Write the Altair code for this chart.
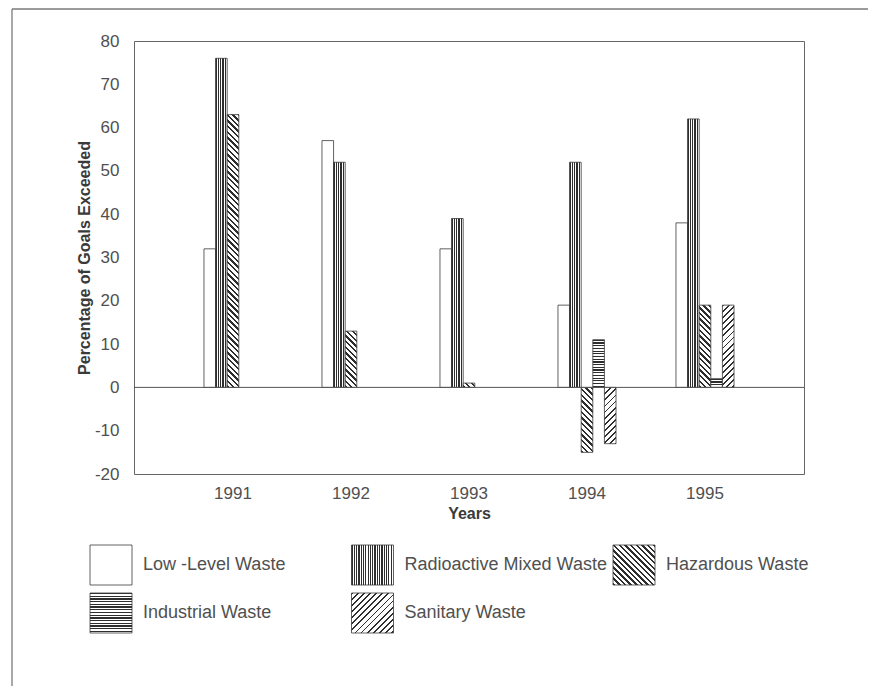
import math
import altair as alt
import pandas as pd

# ---------------- data ----------------
years = ["1991", "1992", "1993", "1994", "1995"]
series = ["Low -Level Waste", "Radioactive Mixed Waste", "Hazardous Waste",
          "Industrial Waste", "Sanitary Waste"]
low_level = [32, 57, 32, 19, 38]
radioactive_mixed = [76, 52, 39, 52, 62]
hazardous = [63, 13, 1, -15, 19]
industrial = [None, None, None, 11, 2]
sanitary = [None, None, None, -13, 19]
y_ticks = [-20, -10, 0, 10, 20, 30, 40, 50, 60, 70, 80]
# legend order (row-major, three columns)
legend_order = ["Low -Level Waste", "Radioactive Mixed Waste", "Hazardous Waste",
                "Industrial Waste", "Sanitary Waste"]

values_by_series = [low_level, radioactive_mixed, hazardous, industrial, sanitary]

rows = []
for s, vals in zip(series, values_by_series):
    for yr, v in zip(years, vals):
        if v is not None:
            rows.append({"year": yr, "series": s, "value": v})
df = pd.DataFrame(rows)

# ---------------- layout / style ----------------
FONT = "Liberation Sans"
W, H = 670, 433
PAD_IN, PAD_OUT = 0.508, 0.593
step = W / (len(years) - PAD_IN + 2 * PAD_OUT)
bar_w = step * (1 - PAD_IN) / len(series)
px_per_unit = H / 100.0
DARK = "#2e2e2e"
LIGHT = "#ffffff"
STROKE = "#3a3a3a"
TXT = "#505050"

patterns = {
    "Low -Level Waste": None,
    "Radioactive Mixed Waste": ("v", 2.3, 0.5),
    "Hazardous Waste": ("bs", 4.0, 0.42),
    "Industrial Waste": ("h", 2.7, 0.45),
    "Sanitary Waste": ("fs", 4.3, 0.3),
}


def stripe_gradient(kind, w, h, period, duty):
    if kind == "v":
        coords = dict(x1=0, y1=0, x2=1, y2=0)
        L = w
    elif kind == "h":
        coords = dict(x1=0, y1=0, x2=0, y2=1)
        L = h
    else:
        t = (w + h) / (w * w + h * h)
        if kind == "bs":
            coords = dict(x1=0, y1=1, x2=t * w, y2=1 - t * h)
        else:
            coords = dict(x1=0, y1=0, x2=t * w, y2=t * h)
        L = (w + h) / math.sqrt(2)
    n = max(L / period, 1.0)
    stops = []
    for i in range(int(math.ceil(n))):
        a = min(i / n, 1.0)
        b = min((i + duty) / n, 1.0)
        c = min((i + 1) / n, 1.0)
        stops += [(a, DARK), (b, DARK), (b, LIGHT), (c, LIGHT)]
    return alt.LinearGradient(
        gradient="linear",
        stops=[alt.GradientStop(offset=round(o, 6), color=col) for o, col in stops],
        **{k: round(v, 6) for k, v in coords.items()},
    )


x_enc = alt.X(
    "year:N",
    scale=alt.Scale(domain=years, paddingInner=PAD_IN, paddingOuter=PAD_OUT),
    axis=alt.Axis(title="Years", labelAngle=0, ticks=False, domain=False, grid=False,
                  labelPadding=11, labelFontSize=17, labelColor=TXT, labelFont=FONT,
                  titleFont=FONT, titleFontSize=16, titleFontWeight="bold",
                  titleColor="#3a3a3a", titlePadding=4),
)
xo_enc = alt.XOffset("series:N", scale=alt.Scale(domain=series, paddingInner=0, paddingOuter=0))
y_enc = alt.Y(
    "value:Q",
    scale=alt.Scale(domain=[-20, 80], nice=False),
    axis=alt.Axis(title="Percentage of Goals Exceeded", values=y_ticks, ticks=False,
                  domain=False, grid=False, labelPadding=15, labelFontSize=17,
                  labelExpr="datum.value < 0 ? '-' + abs(datum.value) : '' + datum.value",
                  labelColor=TXT, labelFont=FONT, titleFont=FONT, titleFontSize=16,
                  titleFontWeight="bold", titleColor="#3a3a3a", titlePadding=2),
)

bar_layers = []
for s, vals in zip(series, values_by_series):
    for yr, v in zip(years, vals):
        if v is None:
            continue
        pat = patterns[s]
        if pat is None:
            fill = LIGHT
        else:
            fill = stripe_gradient(pat[0], bar_w, abs(v) * px_per_unit, pat[1], pat[2])
        layer = (
            alt.Chart(df)
            .transform_filter((alt.datum.year == yr) & (alt.datum.series == s))
            .mark_bar(fill=fill, stroke=STROKE, strokeWidth=0.8)
            .encode(x=x_enc, xOffset=xo_enc, y=y_enc)
        )
        bar_layers.append(layer)

zero_rule = (
    alt.Chart(pd.DataFrame({"z": [0]}))
    .mark_rule(color="#555555", strokeWidth=1)
    .encode(y=alt.Y("z:Q", scale=alt.Scale(domain=[-20, 80], nice=False)))
)

main = alt.layer(*bar_layers, zero_rule)

# ---------------- legend (drawn through its own scales) ----------------
leg = pd.DataFrame({"label": legend_order})
leg["idx"] = range(len(legend_order))
leg["col"] = leg["idx"] % 3
leg["row"] = leg["idx"] // 3

SW_W, SW_H = 42.0, 40.0
COL_PX = 261.5
ROW_PX = 48.0
lx = alt.Scale(domain=[0, 2], range=[90 - 134, 90 - 134 + 2 * COL_PX], nice=False, zero=False)
ly = alt.Scale(domain=[0, 1], range=[545 - 41, 545 - 41 + ROW_PX], nice=False, zero=False)

legend_layers = []
for i, lab in enumerate(legend_order):
    pat = patterns[lab]
    fill = LIGHT if pat is None else stripe_gradient(pat[0], SW_W, SW_H, pat[1], pat[2])
    legend_layers.append(
        alt.Chart(leg)
        .transform_filter(alt.datum.idx == i)
        .transform_calculate(x2=f"datum.col + {SW_W / COL_PX}", y2=f"datum.row + {SW_H / ROW_PX}")
        .mark_rect(fill=fill, stroke=STROKE, strokeWidth=0.8)
        .encode(
            x=alt.X("col:Q", scale=lx, axis=None),
            x2="x2:Q",
            y=alt.Y("row:Q", scale=ly, axis=None),
            y2="y2:Q",
        )
    )

legend_text = (
    alt.Chart(leg)
    .transform_calculate(tx=f"datum.col + {53 / COL_PX}", ty=f"datum.row + {SW_H / 2 / ROW_PX}")
    .mark_text(align="left", baseline="middle", fontSize=18, font=FONT, color=TXT)
    .encode(
        x=alt.X("tx:Q", scale=lx, axis=None),
        y=alt.Y("ty:Q", scale=ly, axis=None),
        text="label:N",
    )
)

one = pd.DataFrame({"a": [0]})
border_top = alt.Chart(one).mark_rule(color="#7a7a7a", strokeWidth=1.3).encode(
    x=alt.value(-122), x2=alt.value(745), y=alt.value(-32))
border_left = alt.Chart(one).mark_rule(color="#7a7a7a", strokeWidth=1.3).encode(
    x=alt.value(-122), y=alt.value(-32), y2=alt.value(680))

legend = alt.layer(*legend_layers, legend_text, border_top, border_left)

chart = (
    alt.layer(main, legend)
    .resolve_scale(x="independent", y="independent")
    .properties(
        width=W,
        height=H,
        padding={"left": 126, "top": 33, "right": 64, "bottom": 212},
        autosize=alt.AutoSizeParams(type="none"),
        background="white",
    )
    .configure_view(stroke="#666666", strokeWidth=1)
)

chart.save("out.html", embed_options={"renderer": "svg", "actions": False})
